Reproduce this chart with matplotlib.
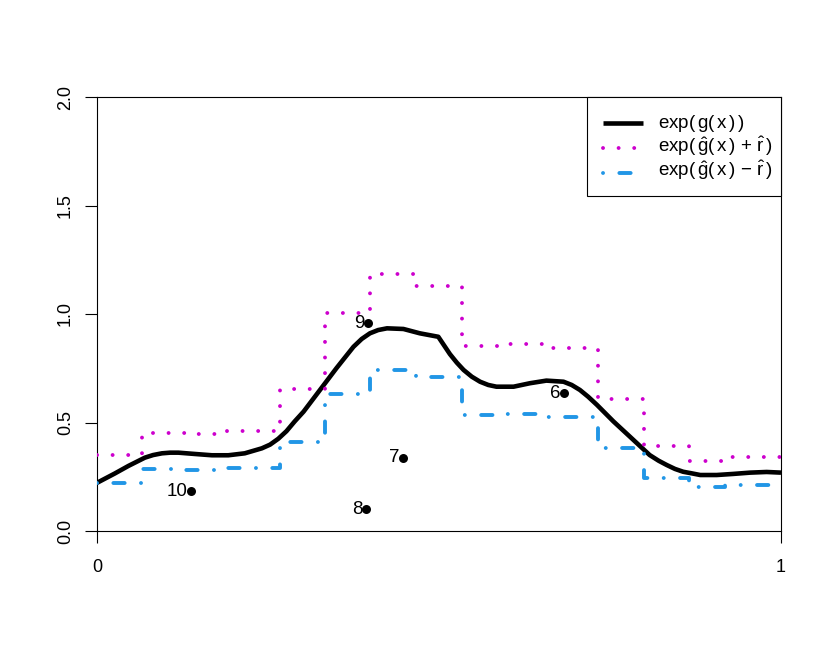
import matplotlib
matplotlib.use("Agg")
import matplotlib.pyplot as plt
from matplotlib.lines import Line2D
from matplotlib.patches import Rectangle

plt.rcParams['font.family'] = ['Liberation Sans', 'DejaVu Sans']
plt.rcParams['mathtext.fontset'] = 'custom'
plt.rcParams['mathtext.rm'] = 'Liberation Sans'
plt.rcParams['mathtext.it'] = 'Liberation Sans'
plt.rcParams['mathtext.bf'] = 'Liberation Sans:bold'

# true curve exp(g(x))
curve_x = [0.0, 0.026, 0.046, 0.058, 0.070, 0.082, 0.095, 0.107, 0.119, 0.143,
           0.168, 0.192, 0.216, 0.241, 0.253, 0.265, 0.277, 0.289, 0.302, 0.326,
           0.338, 0.350, 0.3626, 0.375, 0.387, 0.399, 0.411, 0.424, 0.448, 0.472,
           0.499, 0.516, 0.526, 0.536, 0.548, 0.560, 0.572, 0.584, 0.609, 0.633,
           0.657, 0.682, 0.694, 0.706, 0.718, 0.731, 0.755, 0.779, 0.808, 0.821,
           0.833, 0.845, 0.857, 0.869, 0.882, 0.906, 0.930, 0.955, 0.979, 1.0]
curve_y = [0.222, 0.265, 0.300, 0.319, 0.338, 0.350, 0.358, 0.361, 0.361, 0.355,
           0.349, 0.349, 0.358, 0.381, 0.398, 0.425, 0.460, 0.505, 0.550, 0.650,
           0.700, 0.750, 0.800, 0.849, 0.885, 0.911, 0.926, 0.934, 0.931, 0.911,
           0.895, 0.815, 0.776, 0.742, 0.711, 0.688, 0.673, 0.665, 0.665, 0.681,
           0.693, 0.688, 0.673, 0.650, 0.619, 0.581, 0.505, 0.435, 0.350, 0.324,
           0.304, 0.286, 0.273, 0.266, 0.258, 0.258, 0.263, 0.269, 0.272, 0.269]

# upper step function exp(ghat + rhat)
upper_x = [0.0, 0.066, 0.13, 0.19, 0.267, 0.333, 0.399, 0.466, 0.533, 0.596,
           0.66, 0.7325, 0.799, 0.866, 0.918, 1.0]
upper_y = [0.35, 0.453, 0.445, 0.461, 0.653, 1.005, 1.184, 1.13, 0.853, 0.862,
           0.842, 0.608, 0.392, 0.324, 0.34, 0.34]

# lower step function exp(ghat - rhat)
lower_x = [0.0, 0.066, 0.13, 0.19, 0.267, 0.333, 0.399, 0.466, 0.533, 0.596,
           0.66, 0.7325, 0.799, 0.866, 0.918, 1.0]
lower_y = [0.22, 0.284, 0.279, 0.289, 0.41, 0.63, 0.742, 0.708, 0.535, 0.539,
           0.527, 0.381, 0.246, 0.204, 0.212, 0.212]

# labelled observations
pt_x = [0.683, 0.448, 0.393, 0.396, 0.138]
pt_y = [0.634, 0.338, 0.100, 0.957, 0.184]
pt_lab = ['6', '7', '8', '9', '10']

legend_labels = [r'$\mathrm{exp(\,g(\,x\,)\,)}$',
                 r'$\mathrm{exp(\,\hat{g}(\,x\,)\,+\,\hat{r}\,)}$',
                 r'$\mathrm{exp(\,\hat{g}(\,x\,)\,-\,\hat{r}\,)}$']

black = '#000000'
magenta = '#CD00CD'
blue = '#2196E6'

dot_style = (0, (0.01, 4.0))
dashdot_style = (0, (0.01, 4.2, 2.9, 4.2))

W, H = 830, 653
fig = plt.figure(figsize=(W/100, H/100), dpi=100)
ax = fig.add_axes([97/W, 1-531/H, (781-97)/W, (531-97)/H])

ax.plot(curve_x, curve_y, color=black, lw=3.3, solid_capstyle='butt',
        solid_joinstyle='round', zorder=3)
ax.step(upper_x, upper_y, where='post', color=magenta, lw=2.8,
        linestyle=dot_style, dash_capstyle='round', zorder=4)
ax.step(lower_x, lower_y, where='post', color=blue, lw=2.8,
        linestyle=dashdot_style, dash_capstyle='round', zorder=4)

ax.scatter(pt_x, pt_y, s=42, color='black', zorder=5, linewidths=0)
for x, y, t in zip(pt_x, pt_y, pt_lab):
    ax.annotate(t, (x, y), xytext=(-2.5, 0), textcoords='offset points',
                ha='right', va='center', fontsize=13.5)

ax.set_xlim(0, 1)
ax.set_ylim(0, 2)
ax.set_xticks([0, 1])
ax.set_xticklabels(['0', '1'])
ax.set_yticks([0, 0.5, 1.0, 1.5, 2.0])
ax.set_yticklabels(['0.0', '0.5', '1.0', '1.5', '2.0'], rotation=90, va='center')
ax.tick_params(axis='both', direction='out', length=8.5, width=0.8, labelsize=13)
ax.tick_params(axis='x', pad=12)
ax.tick_params(axis='y', pad=8)
for s in ax.spines.values():
    s.set_linewidth(0.8)

# legend box, drawn in axes fraction coordinates
def ax_x(px):
    return (px - 97) / 684.0

def ax_y(py):
    return (531 - py) / 434.0

ax.add_patch(Rectangle((ax_x(587), ax_y(196)), ax_x(781) - ax_x(587), ax_y(97) - ax_y(196),
                       transform=ax.transAxes, facecolor='white', edgecolor='black',
                       lw=0.8, zorder=6, clip_on=False))
handle_specs = [
    dict(color=black, lw=3.3, solid_capstyle='butt'),
    dict(color=magenta, lw=2.8, linestyle=dot_style, dash_capstyle='round'),
    dict(color=blue, lw=2.8, linestyle=dashdot_style, dash_capstyle='round'),
]
line_centers = [123.3, 147.5, 172.5]
baselines = [127.5, 151.5, 176.0]
for spec, lc, bl, lab in zip(handle_specs, line_centers, baselines, legend_labels):
    ax.add_line(Line2D([ax_x(603), ax_x(643)], [ax_y(lc), ax_y(lc)],
                       transform=ax.transAxes, zorder=7, clip_on=False, **spec))
    ax.text(ax_x(658), ax_y(bl), lab, transform=ax.transAxes, fontsize=13.5,
            ha='left', va='baseline', zorder=7)

fig.savefig('out.png', dpi=100)
